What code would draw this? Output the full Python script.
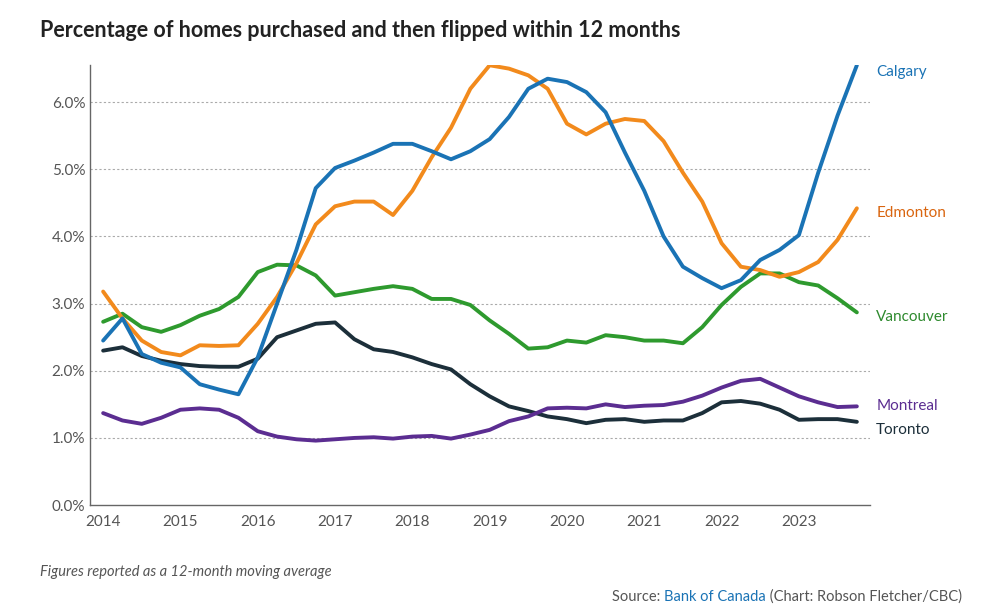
import numpy as np, pandas as pd, seaborn as sns, matplotlib
matplotlib.use("Agg")
import matplotlib.pyplot as plt

years = [2014 + 0.25*i for i in range(40)]
calgary = [2.45,2.78,2.25,2.12,2.05,1.8,1.72,1.65,2.2,3.0,3.8,4.72,5.02,5.13,5.25,5.38,5.38,5.27,5.15,5.27,5.45,5.78,6.2,6.35,6.3,6.15,5.85,5.25,4.68,4.0,3.55,3.38,3.23,3.35,3.65,3.8,4.02,4.95,5.8,6.55]
edmonton = [3.18,2.78,2.45,2.28,2.23,2.38,2.37,2.38,2.7,3.1,3.6,4.18,4.45,4.52,4.52,4.32,4.68,5.18,5.62,6.2,6.55,6.5,6.4,6.2,5.68,5.52,5.68,5.75,5.72,5.42,4.95,4.52,3.9,3.55,3.5,3.4,3.47,3.62,3.95,4.42]
vancouver = [2.73,2.85,2.65,2.58,2.68,2.82,2.92,3.1,3.47,3.58,3.57,3.42,3.12,3.17,3.22,3.26,3.22,3.07,3.07,2.98,2.75,2.55,2.33,2.35,2.45,2.42,2.53,2.5,2.45,2.45,2.41,2.65,2.98,3.25,3.45,3.45,3.32,3.27,3.08,2.87]
toronto = [2.3,2.35,2.22,2.15,2.1,2.07,2.06,2.06,2.18,2.5,2.6,2.7,2.72,2.47,2.32,2.28,2.2,2.1,2.02,1.8,1.62,1.47,1.4,1.32,1.28,1.22,1.27,1.28,1.24,1.26,1.26,1.37,1.53,1.55,1.51,1.42,1.27,1.28,1.28,1.24]
montreal = [1.37,1.26,1.21,1.3,1.42,1.44,1.42,1.3,1.1,1.02,0.98,0.96,0.98,1.0,1.01,0.99,1.02,1.03,0.99,1.05,1.12,1.25,1.32,1.44,1.45,1.44,1.5,1.46,1.48,1.49,1.54,1.63,1.75,1.85,1.88,1.75,1.62,1.53,1.46,1.47]

series = {"Toronto": toronto, "Montreal": montreal, "Vancouver": vancouver, "Edmonton": edmonton, "Calgary": calgary}
colors = {"Calgary": "#1a73b5", "Edmonton": "#f28a1c", "Vancouver": "#2e9a2e", "Toronto": "#1c2f3a", "Montreal": "#5b2d91"}
labcolors = {"Calgary": "#1a73b5", "Edmonton": "#d9650f", "Vancouver": "#2e8a2e", "Toronto": "#1c2f3a", "Montreal": "#5b2d91"}
laby = {"Calgary": 6.45, "Edmonton": 4.35, "Vancouver": 2.8, "Montreal": 1.48, "Toronto": 1.12}

df = pd.concat([pd.DataFrame({"year": years, "pct": v, "city": k}) for k, v in series.items()])

sns.set_theme(style="white")
plt.rcParams['font.family'] = ['Lato', 'DejaVu Sans']
fig = plt.figure(figsize=(10, 6.1), dpi=100)
ax = fig.add_axes([0.09, 0.172, 0.78, 0.721])
sns.lineplot(data=df, x="year", y="pct", hue="city", palette=colors, linewidth=2.8, legend=False, ax=ax)
ax.set_xlim(2013.83, 2023.92)
ax.set_ylim(0, 6.55)
ax.set_yticks(np.arange(0, 7, 1))
ax.set_yticklabels([f"{v:.1f}%" for v in range(7)])
ax.set_xticks(range(2014, 2024))
ax.set_xlabel(""); ax.set_ylabel("")
ax.tick_params(axis="both", labelsize=11, colors="#555555", length=4)
ax.tick_params(axis="y", length=0)
for y in range(1, 7):
    ax.axhline(y, color="#aaaaaa", lw=0.8, ls=(0, (2, 2)), zorder=0)
for s in ["top", "right"]:
    ax.spines[s].set_visible(False)
for s in ["left", "bottom"]:
    ax.spines[s].set_color("#666666"); ax.spines[s].set_linewidth(1)
for k, yv in laby.items():
    ax.text(2024.0, yv, k, color=labcolors[k], fontsize=11, va="center", ha="left", clip_on=False)
fig.text(0.04, 0.94, "Percentage of homes purchased and then flipped within 12 months", fontsize=15.5, fontweight="bold", color="#222222")
fig.text(0.04, 0.055, "Figures reported as a 12-month moving average", fontsize=10.5, style="italic", color="#555555")
t1 = fig.text(0.612, 0.015, "Source: ", fontsize=10.5, color="#555555")
fig.canvas.draw()
r = fig.canvas.get_renderer()
bb = t1.get_window_extent(r)
t2 = fig.text(bb.x1/1000, 0.015, "Bank of Canada", fontsize=10.5, color="#1a73b5")
bb = t2.get_window_extent(r)
fig.text(bb.x1/1000, 0.015, " (Chart: Robson Fletcher/CBC)", fontsize=10.5, color="#555555")
fig.savefig("out.png", dpi=100)
